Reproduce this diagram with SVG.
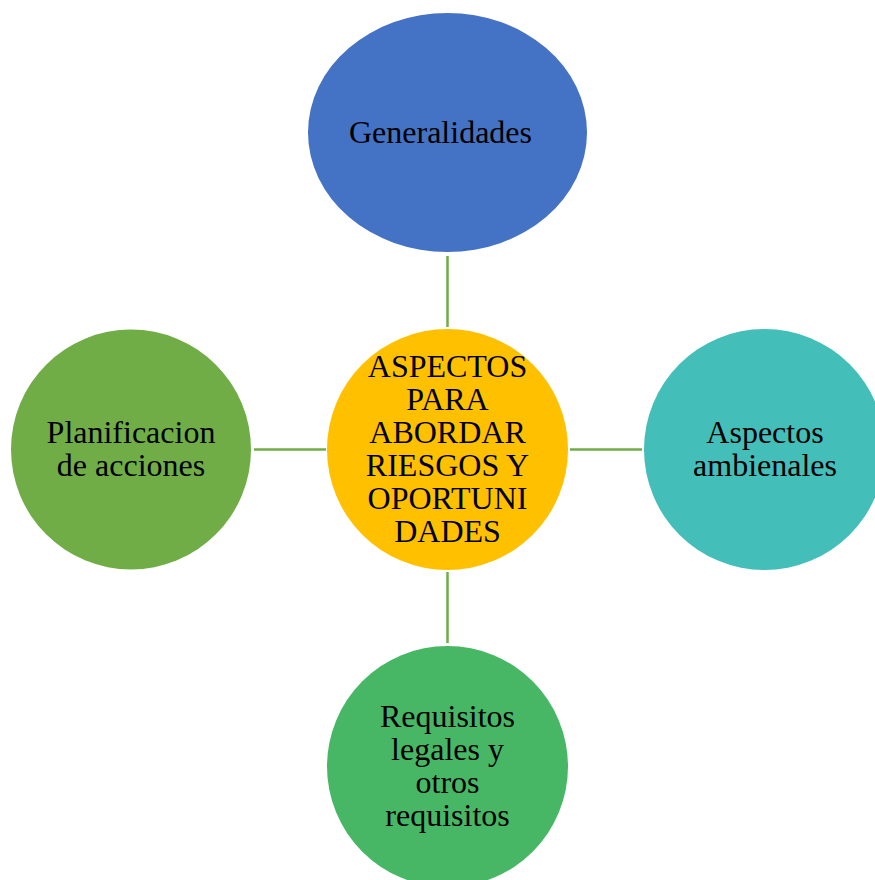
<svg xmlns="http://www.w3.org/2000/svg" width="875" height="880" viewBox="0 0 875 880">
  <style>
    .lbl { font-family: "Liberation Serif", "Times New Roman", serif; font-size: 32px; fill: #000; text-anchor: middle; }
    .conn { stroke: #70AD47; stroke-width: 2.5; fill: none; }
  </style>
  <rect width="875" height="880" fill="#ffffff"/>

  <!-- connectors from the hub to each satellite -->
  <g id="connectors">
    <line class="conn" x1="447.5" y1="256" x2="447.5" y2="327"/>
    <line class="conn" x1="254" y1="449.5" x2="326" y2="449.5"/>
    <line class="conn" x1="570" y1="449.5" x2="642" y2="449.5"/>
    <line class="conn" x1="447.5" y1="572" x2="447.5" y2="643"/>
  </g>

  <g id="node-generalidades">
    <ellipse cx="447.5" cy="132.5" rx="139.5" ry="119.5" fill="#4472C4"/>
    <text class="lbl" x="440.5" y="143">Generalidades</text>
  </g>

  <g id="node-hub">
    <circle cx="447.5" cy="449.5" r="120.5" fill="#FFC000"/>
    <text class="lbl" x="447.5" y="376.5">ASPECTOS</text>
    <text class="lbl" x="447.5" y="409.5">PARA</text>
    <text class="lbl" x="447.5" y="442.5">ABORDAR</text>
    <text class="lbl" x="447.5" y="475.5">RIESGOS Y</text>
    <text class="lbl" x="447.5" y="508.5">OPORTUNI</text>
    <text class="lbl" x="447.5" y="541.5">DADES</text>
  </g>

  <g id="node-planificacion">
    <circle cx="131" cy="449.5" r="120" fill="#70AD47"/>
    <text class="lbl" x="131" y="443">Planificacion</text>
    <text class="lbl" x="131" y="475.5">de acciones</text>
  </g>

  <g id="node-aspectos">
    <circle cx="764.5" cy="449.5" r="120.5" fill="#43BEB9"/>
    <text class="lbl" x="765" y="443">Aspectos</text>
    <text class="lbl" x="765" y="475.5">ambienales</text>
  </g>

  <g id="node-requisitos">
    <circle cx="447.5" cy="766.5" r="120.5" fill="#47B766"/>
    <text class="lbl" x="447.5" y="726.5">Requisitos</text>
    <text class="lbl" x="447.5" y="759.5">legales y</text>
    <text class="lbl" x="447.5" y="792.5">otros</text>
    <text class="lbl" x="447.5" y="825.5">requisitos</text>
  </g>
</svg>
